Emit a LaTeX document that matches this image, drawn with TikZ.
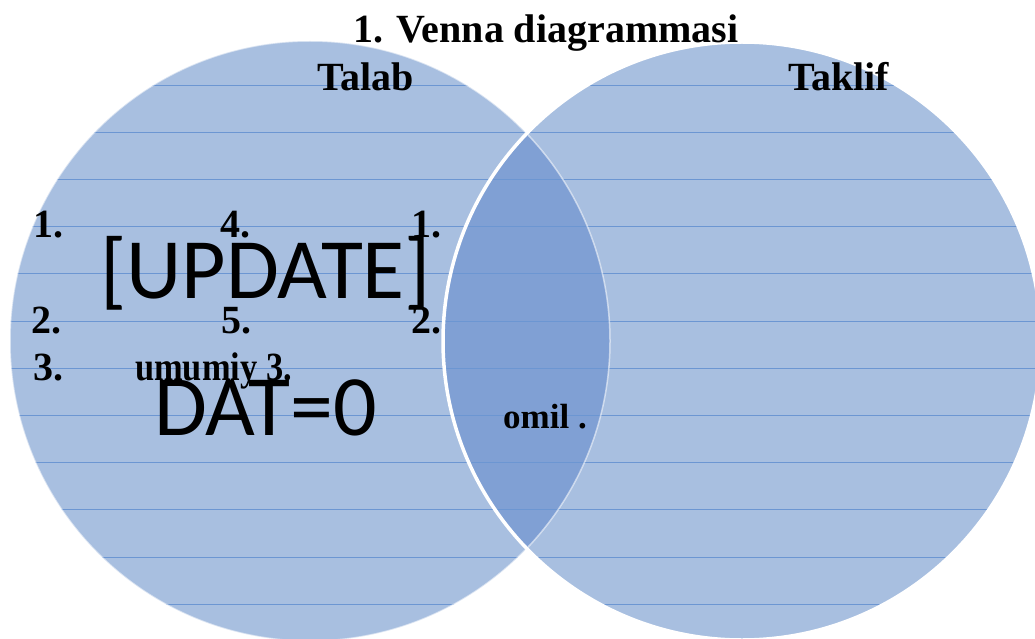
\documentclass[tikz,border=0pt]{standalone}
\usepackage{fontspec}
\setmainfont{Liberation Serif}
\newfontfamily\calib{Carlito}
\definecolor{circfill}{RGB}{168,191,224}
\definecolor{lensfill}{RGB}{128,160,212}
\definecolor{ruleblue}{RGB}{108,150,210}
\tikzset{
  circ/.style={fill=circfill},
  lens/.style={fill=lensfill},
  ruleline/.style={draw=ruleblue, line width=0.9pt},
  lbl/.style={inner sep=0pt, anchor=base west, font=\bfseries\fontsize{40}{48}\selectfont},
  big/.style={inner sep=0pt, anchor=base west, font=\calib\fontsize{86}{98}\selectfont},
}
\begin{document}
\begin{tikzpicture}[x=1pt,y=-1pt]
\useasboundingbox (0,0) rectangle (1035,639);
\coordinate (cl) at (310,341);
\coordinate (cr) at (742,341);
% circles
\fill[circ] (cl) circle (300pt);
\fill[circ] (cr) circle (299pt);
% lens
\begin{scope}
  \clip (cl) circle (300pt);
  \fill[lens] (cr) circle (299pt);
\end{scope}
% ruled lines
\begin{scope}
  \clip (cl) circle (300pt) (cr) circle (299pt);
  \foreach \k in {0,...,11}
    \draw[ruleline] (0,{85+47.2*\k}) -- (1035,{85+47.2*\k});
\end{scope}
% outlines
\draw[white, opacity=0.55, line width=1.5pt] (cl) circle (300pt);
\draw[white, line width=3.5pt] (cr) circle (299pt);
% texts
\node[lbl] (title) at (353,43) {1. Venna diagrammasi};
\node[lbl] (talab) at (317,91) {Talab};
\node[lbl] (taklif) at (788,91) {Taklif};
\node[lbl] (a1) at (33,237) {1.};
\node[lbl] (a4) at (220,237) {4.};
\node[lbl] (b1) at (411,237) {1.};
\node[lbl] (a2) at (31,333) {2.};
\node[lbl] (a5) at (221,333) {5.};
\node[lbl] (b2) at (411,333) {2.};
\node[lbl] (a3) at (33,380) {3.};
\node[lbl] (umu) at (135,380) {\scalebox{0.86}[1]{umumiy 3.}};
\node[big] (upd) at (100,298) {[UPDATE]};
\node[big] (dat) at (154,435) {DAT=0};
\node[inner sep=0pt, anchor=base west, font=\bfseries\fontsize{35}{42}\selectfont] (omil) at (503,428) {omil .};
\end{tikzpicture}
\end{document}
